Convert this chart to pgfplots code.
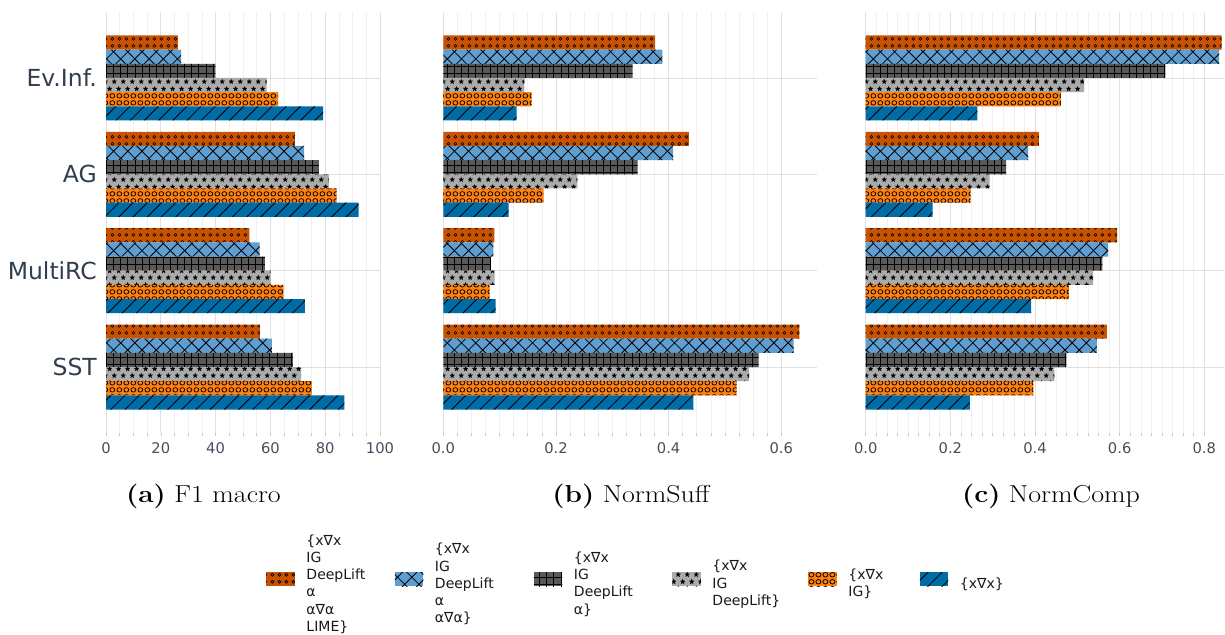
\documentclass[border=0pt]{standalone}
\usepackage{pgfplots}
\pgfplotsset{compat=1.18}
\usepackage{fontspec}
\usepackage{graphicx}
\usetikzlibrary{patterns}
\newfontfamily\dejavu{DejaVu Sans}

\definecolor{cBlue}{HTML}{006BA4}
\definecolor{cOrange}{HTML}{FF800E}
\definecolor{cLGray}{HTML}{ABABAB}
\definecolor{cDGray}{HTML}{595959}
\definecolor{cLBlue}{HTML}{5F9ED1}
\definecolor{cDOrange}{HTML}{C85200}
\definecolor{txtdark}{HTML}{323D4D}
\definecolor{txttick}{HTML}{444E5C}
\definecolor{gridmaj}{HTML}{E0E0E0}
\definecolor{gridmin}{HTML}{F0F0F0}

% diagonal lines '/'
\pgfdeclarepatternformonly{hslash}{\pgfqpoint{-1pt}{-1pt}}{\pgfqpoint{15.2pt}{15.2pt}}{\pgfqpoint{14.2pt}{14.2pt}}{%
  \pgfsetlinewidth{0.8pt}%
  \pgfpathmoveto{\pgfqpoint{0pt}{0pt}}\pgfpathlineto{\pgfqpoint{14.3pt}{14.3pt}}%
  \pgfusepath{stroke}}
% crosshatch 'x'
\pgfdeclarepatternformonly{hcross}{\pgfqpoint{-1pt}{-1pt}}{\pgfqpoint{15.2pt}{15.2pt}}{\pgfqpoint{14.2pt}{14.2pt}}{%
  \pgfsetlinewidth{0.8pt}%
  \pgfpathmoveto{\pgfqpoint{0pt}{0pt}}\pgfpathlineto{\pgfqpoint{14.3pt}{14.3pt}}%
  \pgfpathmoveto{\pgfqpoint{0pt}{14.2pt}}\pgfpathlineto{\pgfqpoint{14.3pt}{-0.1pt}}%
  \pgfusepath{stroke}}
% grid '+'
\pgfdeclarepatternformonly{hgrid}{\pgfqpoint{-1pt}{-1pt}}{\pgfqpoint{8.1pt}{8.1pt}}{\pgfqpoint{7.1pt}{7.1pt}}{%
  \pgfsetlinewidth{0.8pt}%
  \pgfpathmoveto{\pgfqpoint{0pt}{0pt}}\pgfpathlineto{\pgfqpoint{7.2pt}{0pt}}%
  \pgfpathmoveto{\pgfqpoint{0pt}{0pt}}\pgfpathlineto{\pgfqpoint{0pt}{7.2pt}}%
  \pgfusepath{stroke}}
% small circles 'o'
\pgfdeclarepatternformonly{hsmallcirc}{\pgfqpoint{0pt}{0pt}}{\pgfqpoint{7.3pt}{7.1pt}}{\pgfqpoint{7.3pt}{7.1pt}}{%
  \pgfsetlinewidth{0.65pt}%
  \pgfpathcircle{\pgfqpoint{3.65pt}{3.55pt}}{1.6pt}%
  \pgfusepath{stroke}}
% big circles 'O'
\pgfdeclarepatternformonly{hbigcirc}{\pgfqpoint{0pt}{0pt}}{\pgfqpoint{6.85pt}{7.1pt}}{\pgfqpoint{6.85pt}{7.1pt}}{%
  \pgfsetlinewidth{0.8pt}%
  \pgfpathcircle{\pgfqpoint{3.425pt}{3.55pt}}{2.5pt}%
  \pgfusepath{stroke}}
% stars '*'
\newcommand\pgfstarat[2]{%
  \pgfpathmoveto{\pgfpoint{#1+0pt}{#2+3.1pt}}%
  \pgfpathlineto{\pgfpoint{#1-0.764pt}{#2+1.052pt}}%
  \pgfpathlineto{\pgfpoint{#1-2.948pt}{#2+0.958pt}}%
  \pgfpathlineto{\pgfpoint{#1-1.236pt}{#2-0.402pt}}%
  \pgfpathlineto{\pgfpoint{#1-1.822pt}{#2-2.508pt}}%
  \pgfpathlineto{\pgfpoint{#1+0pt}{#2-1.3pt}}%
  \pgfpathlineto{\pgfpoint{#1+1.822pt}{#2-2.508pt}}%
  \pgfpathlineto{\pgfpoint{#1+1.236pt}{#2-0.402pt}}%
  \pgfpathlineto{\pgfpoint{#1+2.948pt}{#2+0.958pt}}%
  \pgfpathlineto{\pgfpoint{#1+0.764pt}{#2+1.052pt}}%
  \pgfpathclose}
\pgfdeclarepatternformonly{hstars}{\pgfqpoint{0pt}{0pt}}{\pgfqpoint{9.4pt}{14.2pt}}{\pgfqpoint{9.4pt}{14.2pt}}{%
  \pgfstarat{2.35pt}{3.55pt}%
  \pgfstarat{7.05pt}{10.65pt}%
  \pgfusepath{fill}}

\pgfplotsset{
  barleg/.style={legend image code/.code={\path[##1] (0pt,-7pt) rectangle (28.5pt,7pt);}},
  sDO/.style={fill=cDOrange, draw=none, postaction={pattern=hsmallcirc}, bar shift=0.3675, barleg},
  sLB/.style={fill=cLBlue, draw=none, postaction={pattern=hcross}, bar shift=0.2205, barleg},
  sDG/.style={fill=cDGray, draw=none, postaction={pattern=hgrid}, bar shift=0.0735, barleg},
  sLG/.style={fill=cLGray, draw=none, postaction={pattern=hstars}, bar shift=-0.0735, barleg},
  sOR/.style={fill=cOrange, draw=none, postaction={pattern=hbigcirc}, bar shift=-0.2205, barleg},
  sBL/.style={fill=cBlue, draw=none, postaction={pattern=hslash}, bar shift=-0.3675, barleg},
  panel/.style={
    scale only axis, height=421pt, anchor=south west,
    xbar, bar width=0.147,
    ymin=-0.684, ymax=3.684, xmin=0,
    ytick={0,1,2,3},
    axis line style={draw=none},
    xmajorgrids, xminorgrids, ymajorgrids,
    major grid style={draw=gridmaj, line width=0.8pt},
    minor grid style={draw=gridmin, line width=0.6pt},
    ytick style={draw=none},
    xtick pos=bottom, tick align=outside,
    major tick length=3pt, minor tick length=2.5pt,
    x tick style={draw=black!22, line width=0.6pt},
    /pgf/number format/assume math mode=true,
    xticklabel style={font=\dejavu\fontsize{14.7}{16}\selectfont, text=txttick, anchor=base, yshift=-17.5pt},
  }
}
\newcommand\legtext[2]{\raisebox{36pt}{\parbox[c][103pt][c]{#1}{\raggedright #2}}}

\begin{document}
\begin{tikzpicture}
\useasboundingbox (0pt,0pt) rectangle (1225pt,-634pt);

% (a) F1 macro
\begin{axis}[panel, at={(106pt,-433pt)}, width=274pt, xmax=100,
  xtick={0,20,40,60,80,100}, minor x tick num=3,
  yticklabels={SST,MultiRC,AG,Ev.Inf.},
  yticklabel style={font=\dejavu\fontsize{23.5}{26}\selectfont, text=txtdark, anchor=east, inner sep=0pt, xshift=-6pt}]
\addplot[sDO] coordinates {(26.2,3) (68.9,2) (52.3,1) (56.2,0)};
\addplot[sLB] coordinates {(27.4,3) (72.3,2) (56.1,1) (60.5,0)};
\addplot[sDG] coordinates {(39.9,3) (77.7,2) (58.0,1) (68.2,0)};
\addplot[sLG] coordinates {(58.6,3) (81.3,2) (60.1,1) (71.2,0)};
\addplot[sOR] coordinates {(62.8,3) (84.2,2) (64.8,1) (75.1,0)};
\addplot[sBL] coordinates {(79.2,3) (92.2,2) (72.6,1) (87.0,0)};
\end{axis}

% (b) NormSuff
\begin{axis}[panel, at={(443.3pt,-433pt)}, width=373.4pt, xmax=0.663,
  xtick={0,0.2,0.4,0.6}, minor x tick num=7,
  xticklabel style={/pgf/number format/.cd, fixed, fixed zerofill, precision=1},
  yticklabels={,,,},
  legend columns=6,
  legend style={draw=none, fill=none, inner sep=0pt, at={(0.5127,-0.3468)}, anchor=center,
    cells={anchor=west},
    nodes={inner sep=0pt, font=\dejavu\fontsize{14}{17.2}\selectfont, text=black!90},
    /tikz/every odd column/.append style={column sep=11.5pt},
    /tikz/every even column/.append style={column sep=0pt}}]
\addplot[sDO] coordinates {(0.376,3) (0.436,2) (0.0905,1) (0.632,0)};
\addlegendentry{\legtext{88.5pt}{\{x∇x\\IG\\DeepLift\\α\\α∇α\\LIME\}}}
\addplot[sLB] coordinates {(0.389,3) (0.408,2) (0.0888,1) (0.622,0)};
\addlegendentry{\legtext{99pt}{\{x∇x\\IG\\DeepLift\\α\\α∇α\}}}
\addplot[sDG] coordinates {(0.336,3) (0.345,2) (0.0846,1) (0.560,0)};
\addlegendentry{\legtext{98.5pt}{\{x∇x\\IG\\DeepLift\\α\}}}
\addplot[sLG] coordinates {(0.144,3) (0.238,2) (0.0911,1) (0.543,0)};
\addlegendentry{\legtext{96pt}{\{x∇x\\IG\\DeepLift\}}}
\addplot[sOR] coordinates {(0.157,3) (0.178,2) (0.0822,1) (0.521,0)};
\addlegendentry{\legtext{71.5pt}{\{x∇x\\IG\}}}
\addplot[sBL] coordinates {(0.130,3) (0.116,2) (0.0929,1) (0.444,0)};
\addlegendentry{\legtext{43pt}{\{x∇x\}}}
\end{axis}

% (c) NormComp
\begin{axis}[panel, at={(865.7pt,-433pt)}, width=358.3pt, xmax=0.8465,
  xtick={0,0.2,0.4,0.6,0.8}, minor x tick num=7,
  xticklabel style={/pgf/number format/.cd, fixed, fixed zerofill, precision=1},
  yticklabels={,,,}]
\addplot[sDO] coordinates {(0.841,3) (0.409,2) (0.594,1) (0.570,0)};
\addplot[sLB] coordinates {(0.835,3) (0.384,2) (0.573,1) (0.546,0)};
\addplot[sDG] coordinates {(0.708,3) (0.332,2) (0.559,1) (0.474,0)};
\addplot[sLG] coordinates {(0.516,3) (0.293,2) (0.537,1) (0.446,0)};
\addplot[sOR] coordinates {(0.461,3) (0.248,2) (0.480,1) (0.396,0)};
\addplot[sBL] coordinates {(0.264,3) (0.158,2) (0.391,1) (0.246,0)};
\end{axis}

\node[anchor=base, inner sep=0pt, font=\fontsize{24.5}{29}\selectfont] at (203.5pt,-502pt) {\scalebox{1.14}[1]{\textbf{(a)} F1 macro}};
\node[anchor=base, inner sep=0pt, font=\fontsize{24.5}{29}\selectfont] at (631pt,-502pt) {\scalebox{1.14}[1]{\textbf{(b)} NormSuff}};
\node[anchor=base, inner sep=0pt, font=\fontsize{24.5}{29}\selectfont] at (1051pt,-502pt) {\scalebox{1.14}[1]{\textbf{(c)} NormComp}};
\end{tikzpicture}
\end{document}
